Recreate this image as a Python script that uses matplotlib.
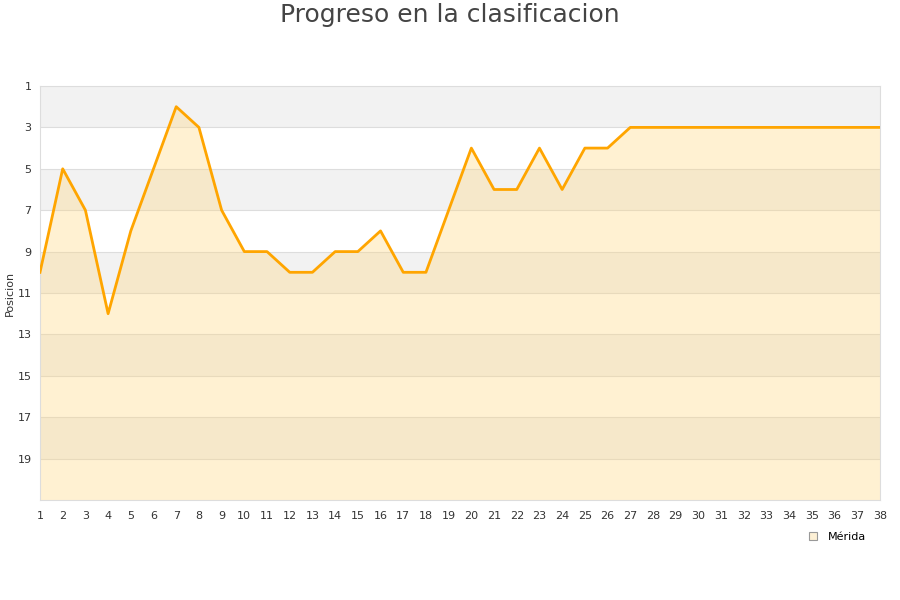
import numpy as np
import matplotlib.pyplot as plt
from matplotlib.lines import Line2D

jornadas = np.arange(1, 39)
posicion = [10, 5, 7, 12, 8, 5, 2, 3, 7, 9, 9, 10, 10, 9, 9, 8, 10, 10, 7, 4,
            6, 6, 4, 6, 4, 4, 3, 3, 3, 3, 3, 3, 3, 3, 3, 3, 3, 3]
y_ticks = [1, 3, 5, 7, 9, 11, 13, 15, 17, 19]

fig = plt.figure(figsize=(9, 6), dpi=100)
ax = fig.add_axes([40/900, 100/600, 840/900, 414/600])

# bandas alternas de fondo
for i, y0 in enumerate(range(1, 21, 2)):
    if i % 2 == 0:
        ax.axhspan(y0, y0 + 2, color='#f2f2f2', zorder=0, lw=0)
for y in y_ticks[1:]:
    ax.axhline(y, color='#dddddd', lw=0.8, zorder=1)

ax.fill_between(jornadas, posicion, 21, color='#ffd780', alpha=0.35, lw=0, zorder=2)
ax.plot(jornadas, posicion, color='#ffa500', lw=2, zorder=3)

ax.set_xlim(1, 38)
ax.set_ylim(21, 1)
ax.set_xticks(jornadas)
ax.set_yticks(y_ticks)
ax.tick_params(length=0, labelsize=8, colors='#333333', pad=8)
ax.tick_params(axis='y', pad=6)
for s in ax.spines.values():
    s.set_color('#dddddd')
ax.set_ylabel('Posicion', fontsize=8, color='#333333')
ax.yaxis.set_label_coords(-0.030, 0.5)

fig.suptitle('Progreso en la clasificacion', fontsize=18, color='#444444', y=0.995)

handle = Line2D([], [], marker='s', ls='none', markersize=6,
                markerfacecolor='#fdf0d5', markeredgecolor='#999999', markeredgewidth=0.8)
fig.legend([handle], ['Mérida'], loc='center', bbox_to_anchor=(870/900 - 0.04, 1 - 537/600),
           frameon=False, fontsize=8, handletextpad=0.3)

fig.savefig('out.png')
